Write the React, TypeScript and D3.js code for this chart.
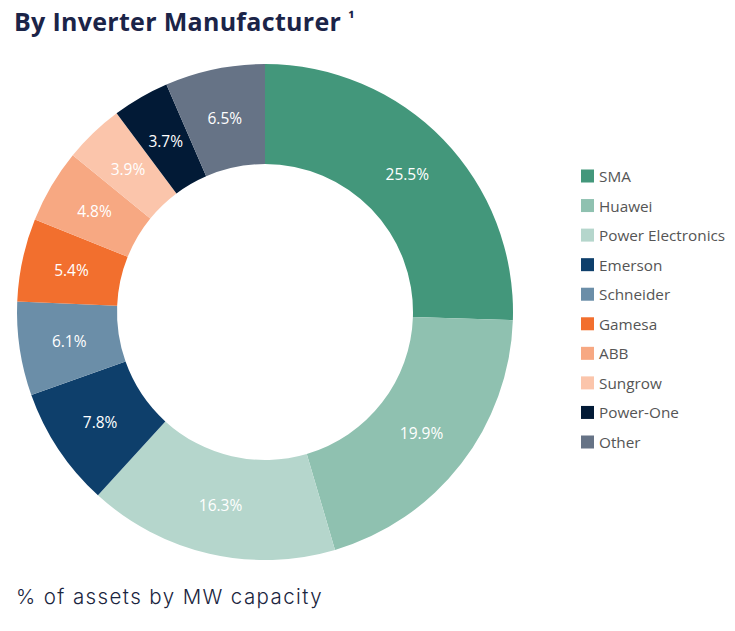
import { useEffect, useRef } from 'react'
import * as d3 from 'd3'

const manufacturers = ['SMA', 'Huawei', 'Power Electronics', 'Emerson', 'Schneider', 'Gamesa', 'ABB', 'Sungrow', 'Power-One', 'Other']
const shares = [25.5, 19.9, 16.3, 7.8, 6.1, 5.4, 4.8, 3.9, 3.7, 6.5]
const colors = ['#43977b', '#8fc1b0', '#b5d6cc', '#0e3f6b', '#6b8ea8', '#f26f2e', '#f7a882', '#fbc5ab', '#021a36', '#667386']

const width = 735
const height = 631

export default function App() {
  const svgRef = useRef<SVGSVGElement>(null)

  useEffect(() => {
    if (!svgRef.current) return
    const svg = d3.select(svgRef.current)
    svg.selectAll('*').remove()

    // title + footnote marker
    const title = svg.append('text')
      .attr('x', 14)
      .attr('y', 31)
      .attr('font-family', "'Open Sans', sans-serif")
      .attr('font-weight', 700)
      .attr('font-size', 25)
      .attr('letter-spacing', 0.3)
      .attr('fill', '#1b2448')
      .text('By Inverter Manufacturer ')
    title.append('tspan')
      .attr('font-size', 17)
      .attr('dy', -6)
      .text('¹')

    svg.append('text')
      .attr('x', 16)
      .attr('y', 604)
      .attr('font-family', 'Inter, sans-serif')
      .attr('font-weight', 300)
      .attr('font-size', 20.5)
      .attr('letter-spacing', 1.4)
      .attr('fill', '#1a2540')
      .text('% of assets by MW capacity')

    const cx = 265
    const cy = 312
    const outer = 248
    const inner = 148

    const pie = d3.pie<number>().sort(null).value(d => d)
    const arcs = pie(shares)
    const arc = d3.arc<d3.PieArcDatum<number>>().innerRadius(inner).outerRadius(outer)

    const g = svg.append('g').attr('transform', `translate(${cx},${cy})`)

    g.selectAll('path')
      .data(arcs)
      .join('path')
      .attr('d', arc)
      .attr('fill', (_, i) => colors[i])

    g.selectAll('text')
      .data(arcs)
      .join('text')
      .attr('transform', d => `translate(${arc.centroid(d)})`)
      .attr('text-anchor', 'middle')
      .attr('dominant-baseline', 'central')
      .attr('font-family', "'Open Sans', sans-serif")
      .attr('font-size', 15.5)
      .attr('fill', '#ffffff')
      .text(d => `${d.data.toFixed(1)}%`)

    const y = d3.scalePoint<string>()
      .domain(manufacturers)
      .range([176, 442])

    const legend = svg.append('g')
    const item = legend.selectAll('g')
      .data(manufacturers)
      .join('g')
      .attr('transform', d => `translate(581,${y(d)})`)

    item.append('rect')
      .attr('x', 0)
      .attr('y', -6.5)
      .attr('width', 13)
      .attr('height', 13)
      .attr('fill', (_, i) => colors[i])

    item.append('text')
      .attr('x', 18)
      .attr('y', 0)
      .attr('dominant-baseline', 'central')
      .attr('font-family', "'Open Sans', sans-serif")
      .attr('font-size', 15.3)
      .attr('fill', '#555555')
      .text(d => d)
  }, [])

  return <svg ref={svgRef} width={width} height={height} style={{ display: 'block', margin: '-8px' }} />
}
